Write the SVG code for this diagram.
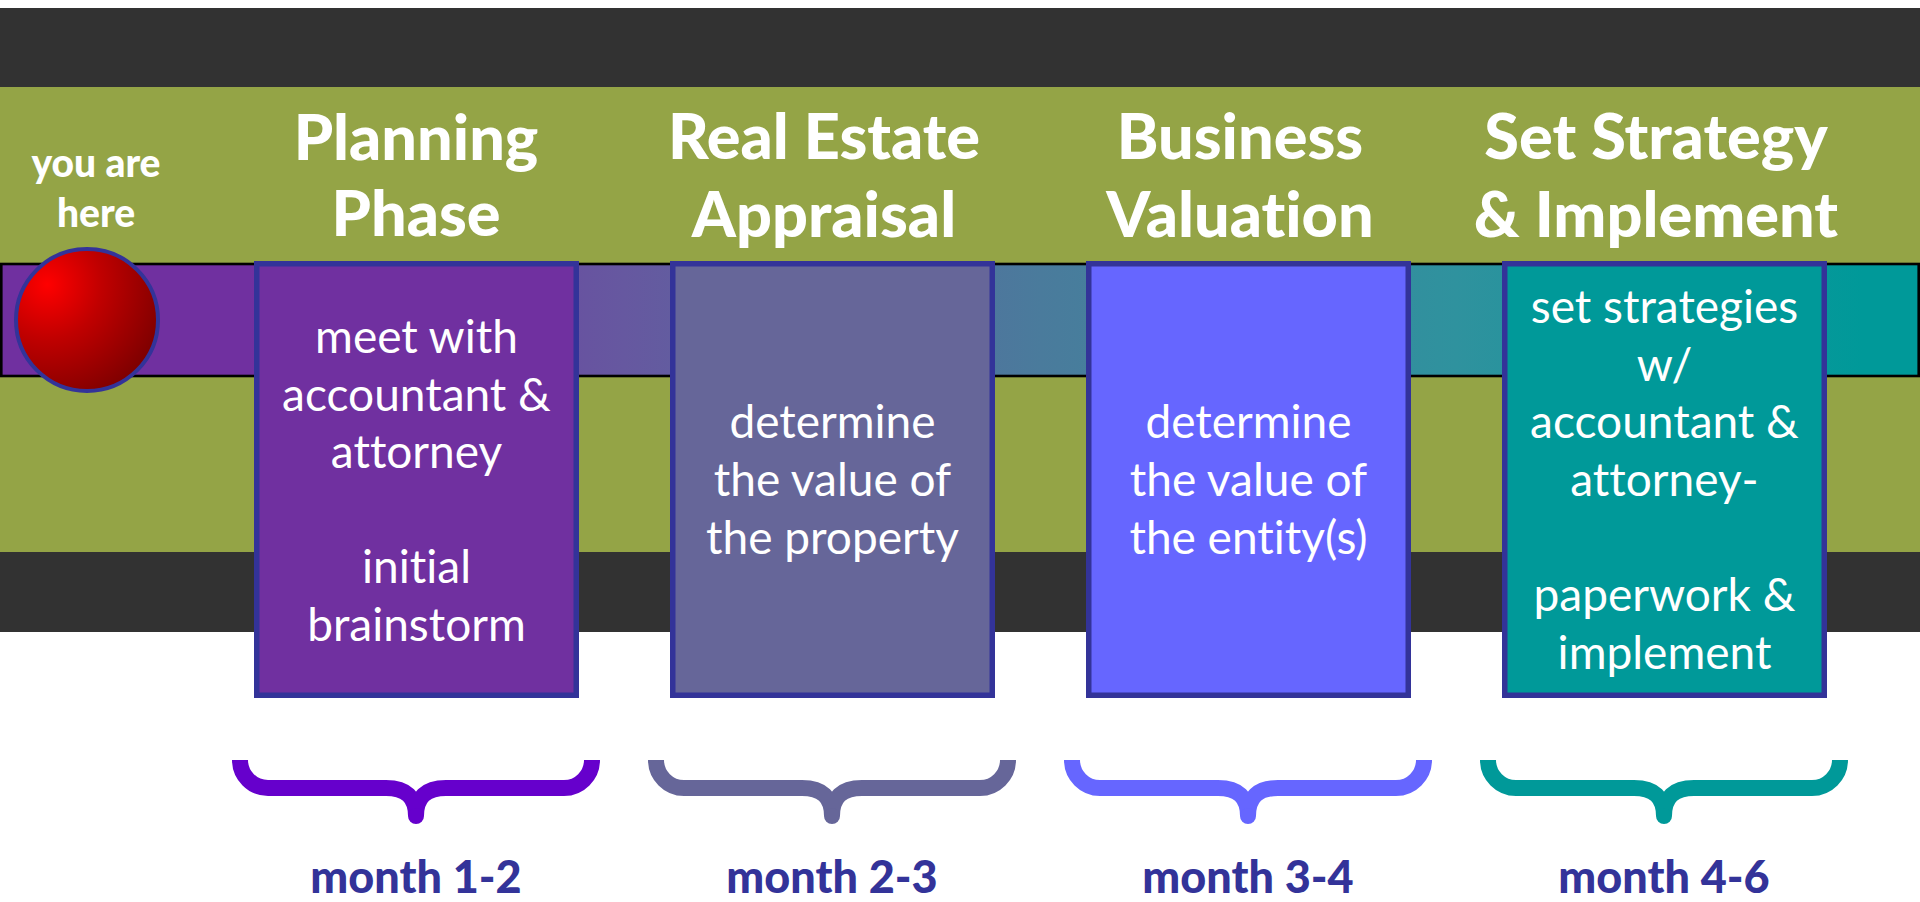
<svg xmlns="http://www.w3.org/2000/svg" width="1920" height="902" viewBox="0 0 1920 902">
<style>
text{font-variant-ligatures:none;font-feature-settings:"liga" 0,"clig" 0}
.hdr{font-family:Lato,"Liberation Sans",sans-serif;font-weight:900;font-size:63px;fill:#fff;text-anchor:middle}
.here{font-family:Lato,"Liberation Sans",sans-serif;font-weight:900;font-size:39px;fill:#fff;text-anchor:middle}
.body{font-family:Lato,"Liberation Sans",sans-serif;font-weight:400;font-size:46px;fill:#fff;text-anchor:middle}
.month{font-family:Lato,"Liberation Sans",sans-serif;font-weight:900;font-size:45px;fill:#333399;text-anchor:middle}
.box{stroke:#333399;stroke-width:5.5}
.brace{fill:none;stroke-width:16;stroke-linecap:butt;stroke-linejoin:round}
</style>
<defs>
<linearGradient id="trackGrad" gradientUnits="userSpaceOnUse" x1="0" y1="0" x2="1920" y2="0">
<stop offset="0" stop-color="#7030A0"/>
<stop offset="0.13" stop-color="#7030A0"/>
<stop offset="0.325" stop-color="#6658A0"/>
<stop offset="0.542" stop-color="#4A7B9C"/>
<stop offset="0.758" stop-color="#2F929E"/>
<stop offset="0.97" stop-color="#009999"/>
<stop offset="1" stop-color="#009999"/>
</linearGradient>
<radialGradient id="ballGrad" cx="0.22" cy="0.25" r="0.85">
<stop offset="0" stop-color="#FF0000"/>
<stop offset="0.45" stop-color="#C00000"/>
<stop offset="1" stop-color="#800000"/>
</radialGradient>
</defs>
<g id="background">
<rect x="0" y="0" width="1920" height="902" fill="#ffffff"/>
<rect x="0" y="8" width="1920" height="79" fill="#323232"/>
<rect x="0" y="87" width="1920" height="465" fill="#94A446"/>
<rect x="0" y="552" width="1920" height="80" fill="#323232"/>
</g>
<g id="track">
<rect x="1.3" y="264" width="1917.4" height="112" fill="url(#trackGrad)" stroke="#000" stroke-width="2.6"/>
</g>
<g id="you-are-here">
<text class="here" x="96" y="177">you are</text>
<text class="here" x="96" y="227">here</text>
<circle cx="87" cy="320" r="71" fill="url(#ballGrad)" stroke="#333399" stroke-width="4"/>
</g>
<g id="phase-planning">
<text class="hdr" x="416" y="160">Planning</text>
<text class="hdr" x="416" y="236">Phase</text>
<rect class="box" x="256.75" y="263.75" width="319.5" height="431.5" fill="#7030A0"/>
<text class="body" x="416.5" y="353">meet with</text>
<text class="body" x="416.5" y="410.6">accountant &amp;</text>
<text class="body" x="416.5" y="468.2">attorney</text>
<text class="body" x="416.5" y="583.4">initial</text>
<text class="body" x="416.5" y="641">brainstorm</text>
</g>
<g id="phase-appraisal">
<text class="hdr" x="824" y="159">Real Estate</text>
<text class="hdr" x="824" y="237">Appraisal</text>
<rect class="box" x="672.75" y="263.75" width="319.5" height="431.5" fill="#666699"/>
<text class="body" x="832.5" y="438">determine</text>
<text class="body" x="832.5" y="496">the value of</text>
<text class="body" x="832.5" y="554">the property</text>
</g>
<g id="phase-valuation">
<text class="hdr" x="1240" y="159">Business</text>
<text class="hdr" x="1240" y="237">Valuation</text>
<rect class="box" x="1088.75" y="263.75" width="319.5" height="431.5" fill="#6666FF"/>
<text class="body" x="1248.5" y="438">determine</text>
<text class="body" x="1248.5" y="496">the value of</text>
<text class="body" x="1248.5" y="554">the entity(s)</text>
</g>
<g id="phase-implement">
<text class="hdr" x="1656" y="159">Set Strategy</text>
<text class="hdr" x="1656" y="237">&amp; Implement</text>
<rect class="box" x="1504.75" y="263.75" width="319.5" height="431.5" fill="#009999"/>
<text class="body" x="1664.5" y="323">set strategies</text>
<text class="body" x="1664.5" y="380.6">w/</text>
<text class="body" x="1664.5" y="438.2">accountant &amp;</text>
<text class="body" x="1664.5" y="495.8">attorney-</text>
<text class="body" x="1664.5" y="611">paperwork &amp;</text>
<text class="body" x="1664.5" y="668.6">implement</text>
</g>
<g id="braces">
<g stroke="#6600CC" fill="#6600CC">
<path class="brace" d="M240,760 A28,28 0 0 0 268,788 L386,788 Q416,788 416,816 M592,760 A28,28 0 0 1 564,788 L446,788 Q416,788 416,816"/>
<circle cx="416" cy="816" r="8" stroke="none"/>
</g>
<g stroke="#666699" fill="#666699">
<path class="brace" d="M656,760 A28,28 0 0 0 684,788 L802,788 Q832,788 832,816 M1008,760 A28,28 0 0 1 980,788 L862,788 Q832,788 832,816"/>
<circle cx="832" cy="816" r="8" stroke="none"/>
</g>
<g stroke="#6666FF" fill="#6666FF">
<path class="brace" d="M1072,760 A28,28 0 0 0 1100,788 L1218,788 Q1248,788 1248,816 M1424,760 A28,28 0 0 1 1396,788 L1278,788 Q1248,788 1248,816"/>
<circle cx="1248" cy="816" r="8" stroke="none"/>
</g>
<g stroke="#009999" fill="#009999">
<path class="brace" d="M1488,760 A28,28 0 0 0 1516,788 L1634,788 Q1664,788 1664,816 M1840,760 A28,28 0 0 1 1812,788 L1694,788 Q1664,788 1664,816"/>
<circle cx="1664" cy="816" r="8" stroke="none"/>
</g>
</g>
<g id="months">
<text class="month" x="416" y="893">month 1-2</text>
<text class="month" x="832" y="893">month 2-3</text>
<text class="month" x="1248" y="893">month 3-4</text>
<text class="month" x="1664" y="893">month 4-6</text>
</g>
</svg>
